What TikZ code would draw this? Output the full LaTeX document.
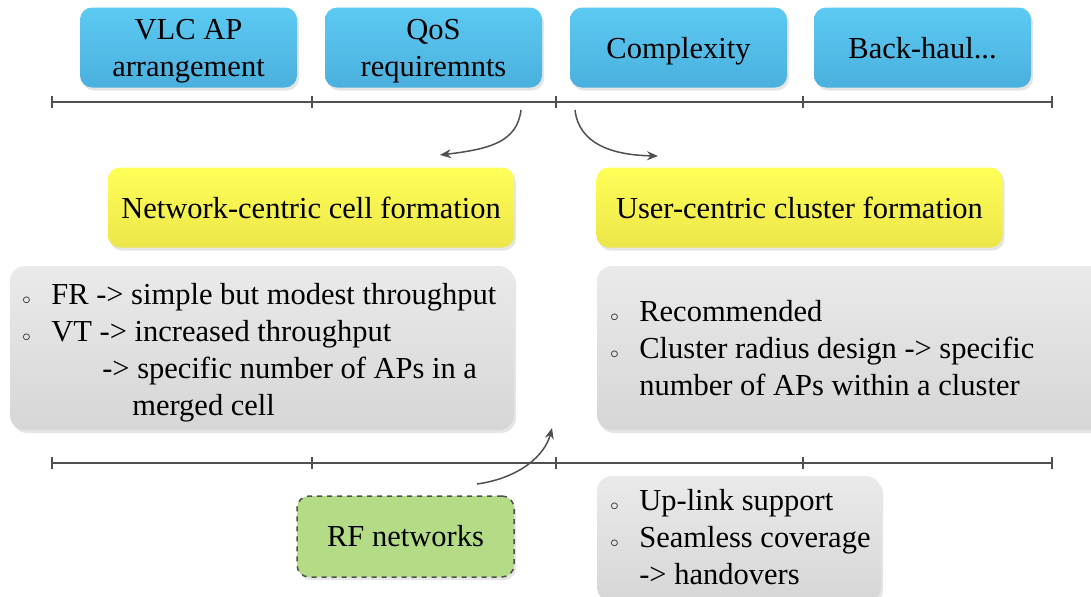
\documentclass[tikz,border=0pt]{standalone}
\usepackage{fontspec}
\setmainfont{Liberation Serif}
\usetikzlibrary{arrows.meta,shadows}
\newlength{\du}
\setlength{\du}{0.6pt}
\definecolor{apblue}{RGB}{92,202,243}
\definecolor{apbluedark}{RGB}{74,176,221}
\definecolor{cellyellow}{RGB}{255,255,88}
\definecolor{cellyellowdark}{RGB}{236,230,74}
\definecolor{notegray}{RGB}{234,234,234}
\definecolor{notegraydark}{RGB}{214,214,214}
\definecolor{rfgreen}{RGB}{180,220,134}
\definecolor{linegray}{RGB}{80,80,80}
\newcommand{\blt}{\makebox[29\du][l]{\fontsize{10}{10}\selectfont$\circ$}}
\newcommand{\cnt}{\hspace*{29\du}}
\tikzset{
  every node/.style={font=\fontsize{18.3}{22.2}\selectfont},
  softshadow/.style={drop shadow={shadow xshift=2\du, shadow yshift=-3\du, opacity=.25, fill=black!40}},
  factor/.style={rounded corners=12\du, top color=apblue, bottom color=apbluedark,
    minimum width=217\du, minimum height=80\du, align=center, text depth=0pt, softshadow},
  formation/.style={rounded corners=12\du, top color=cellyellow, bottom color=cellyellowdark,
    minimum width=406\du, minimum height=80\du, softshadow},
  notebox/.style={rounded corners=15\du, top color=notegray, bottom color=notegraydark,
    softshadow},
  notetext/.style={align=left, inner sep=0pt, anchor=west},
  rfbox/.style={rounded corners=12\du, fill=rfgreen, draw=linegray, dashed,
    line width=1.5\du, minimum width=217\du, minimum height=81\du, softshadow},
  timeline/.style={draw=linegray, line width=2\du},
  link/.style={draw=linegray, line width=1.5\du, -{Stealth[length=6.6pt,width=5.4pt]}}
}
\begin{document}
\begin{tikzpicture}
\pgftransformyscale{-1.000000}
\useasboundingbox (0\du,0\du) rectangle (1091\du,596\du);
% factors on top
\node[factor] (apArr) at (188.5\du,47.5\du) {VLC AP\\arrangement};
\node[factor] (qosReq) at (433.5\du,47.5\du) {QoS\\requiremnts};
\node[factor] (cplx) at (678.5\du,47.5\du) {Complexity};
\node[factor] (bhaul) at (922.5\du,47.5\du) {Back-haul...};
% time lines
\draw[timeline] (52\du,102\du) -- (1052\du,102\du);
\draw[timeline] (52\du,463\du) -- (1052\du,463\du);
\foreach \tx in {52,312,556,803,1052}{
  \draw[timeline] (\tx\du,96\du) -- (\tx\du,108\du);
  \draw[timeline] (\tx\du,457\du) -- (\tx\du,469\du);
}
% formations
\node[formation] (netCell) at (311\du,207.5\du) {Network-centric cell formation};
\node[formation] (userClu) at (799.5\du,207.5\du) {User-centric cluster formation};
% notes
\node[notebox, minimum width=504\du, minimum height=164\du] (netNote) at (262\du,348\du) {};
\node[notetext] (netText) at (22\du,353\du) {%
\blt FR -> simple but modest throughput\\
\blt VT -> increased throughput\\
\hspace*{80\du}-> specific number of APs in a\\
\hspace*{110\du}merged cell};
\node[notebox, minimum width=512\du, minimum height=164\du] (userNote) at (853\du,348\du) {};
\node[notetext] (userText) at (610\du,348\du) {%
\blt Recommended\\
\blt Cluster radius design -> specific\\
\cnt number of APs within a cluster};
\node[notebox, minimum width=284\du, minimum height=126\du] (rfNote) at (739\du,539\du) {};
\node[notetext] (rfText) at (610\du,537\du) {%
\blt Up-link support\\
\blt Seamless coverage\\
\cnt -> handovers};
\node[rfbox] (rfNet) at (405.5\du,536.5\du) {RF networks};
% arrows
\coordinate (qosTail) at (521\du,110\du);
\coordinate (netHead) at (440\du,155\du);
\coordinate (cplxTail) at (575\du,110\du);
\coordinate (userHead) at (658\du,156\du);
\coordinate (rfTail) at (477\du,484\du);
\coordinate (rfHead) at (552\du,428\du);
\draw[link] (qosTail) .. controls (517\du,142\du) and (490\du,149\du) .. (netHead);
\draw[link] (cplxTail) .. controls (579\du,144\du) and (612\du,155\du) .. (userHead);
\draw[link] (rfTail) .. controls (520\du,478\du) and (545\du,455\du) .. (rfHead);
\end{tikzpicture}
\end{document}
